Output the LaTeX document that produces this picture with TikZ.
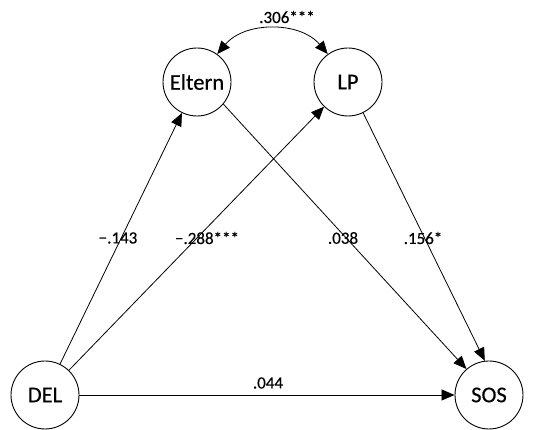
\documentclass[tikz,border=0pt]{standalone}
\usepackage{fontspec}
\setmainfont{Carlito}[FakeBold=0.4]
\usetikzlibrary{arrows.meta}

\begin{document}
\begin{tikzpicture}[
    x=1pt, y=1pt,
    var/.style={circle, draw, line width=0.9pt, minimum size=68pt, inner sep=0pt, font=\fontsize{22.5}{24}\selectfont},
    arrow/.style={-{Triangle[length=13pt,width=11pt]}, line width=0.8pt},
    coef/.style={font=\fontsize{17}{18}\selectfont, inner sep=1pt}
]
\useasboundingbox (0,0) rectangle (533,430);

% Variables
\node[var] (eltern) at (197,348) {Eltern};
\node[var] (lp) at (348,348) {LP};
\node[var] (del) at (45,35) {DEL};
\node[var] (sos) at (489,35) {SOS};

% Paths
\draw[arrow] (del) -- (eltern);
\draw[arrow] (del) -- (lp);
\draw[arrow] (eltern.-40) -- (sos.131);
\draw[arrow] (lp) -- (sos.97);
\draw[arrow] (del) -- (sos);
\draw[{Triangle[length=13pt,width=11pt]}-{Triangle[length=13pt,width=11pt]}, line width=0.8pt]
    (eltern.54) to[bend left=50] (lp.126);

% Coefficients
\node[coef] (c306) at (287,413) {.306***};
\node[coef] (c143) at (118,192) {−.143};
\node[coef] (c288) at (207,192) {−.288***};
\node[coef] (c038) at (343,192) {.038};
\node[coef] (c156) at (423,192) {.156*};
\node[coef] (c044) at (268,47) {.044};
\end{tikzpicture}
\end{document}
